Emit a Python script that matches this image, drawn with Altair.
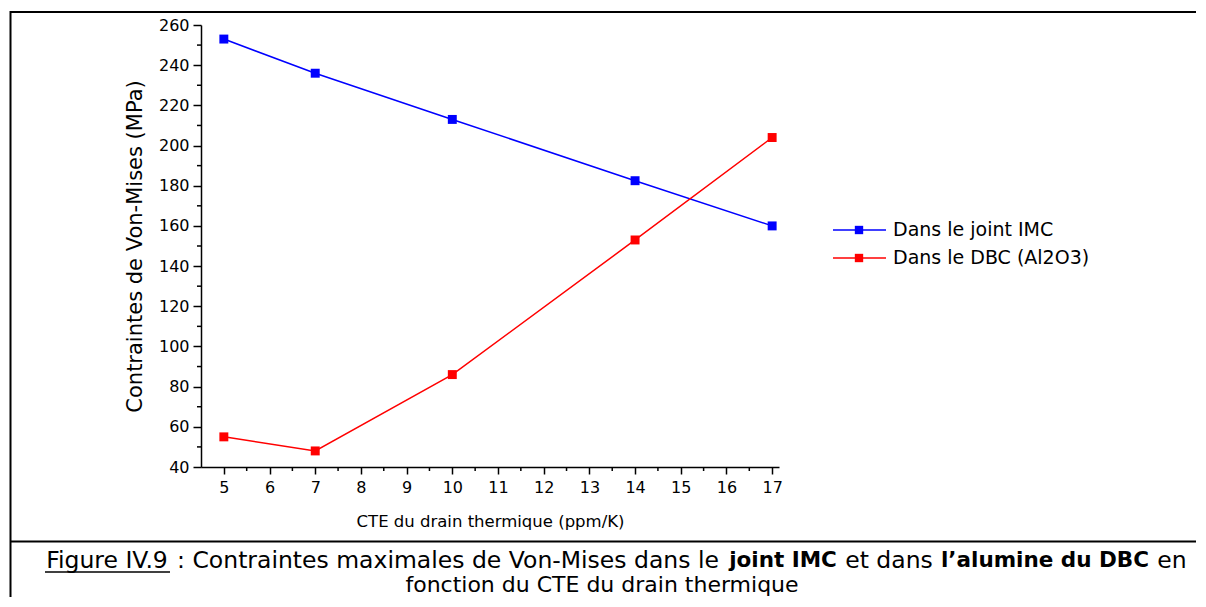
import altair as alt
import pandas as pd

# ---------------- data ----------------
cte = [5, 7, 10, 14, 17]
imc = [253, 236, 213, 182.5, 160]
dbc = [55, 48, 86, 153, 204]
series_names = ["Dans le joint IMC", "Dans le DBC (Al2O3)"]
series_colors = ["#0000FF", "#FF0000"]
x_ticks = list(range(5, 18))
x_minor = [v + 0.5 for v in range(5, 17)]
y_ticks = list(range(40, 261, 20))
y_minor = list(range(50, 251, 20))
x_title = "CTE du drain thermique (ppm/K)"
y_title = "Contraintes de Von-Mises (MPa)"
caption_line1 = [("Figure IV.9", "normal"),
                 (": Contraintes maximales de Von-Mises dans le", "normal"),
                 ("joint IMC", "bold"),
                 ("et dans", "normal"),
                 ("l\u2019alumine du DBC", "bold"),
                 ("en", "normal")]
caption_line2 = "fonction du CTE du drain thermique"

rows = []
for name, vals in zip(series_names, [imc, dbc]):
    for c, v in zip(cte, vals):
        rows.append({"cte": c, "stress": v, "serie": name})
df = pd.DataFrame(rows)

# ---------------- layout ----------------
PX0, PY0 = 201, 25          # page coordinates of the plot origin
W, H = 578, 442
FONT = "DejaVu Sans"

def rx(px):
    return px - PX0

def ry(py):
    return py - PY0

xs = alt.Scale(domain=[4.5, 17.15], nice=False, zero=False)
ys = alt.Scale(domain=[40, 260], nice=False, zero=False)
cs = alt.Scale(domain=series_names, range=series_colors)

common = dict(domainColor="black", domainWidth=1.5, tickColor="black", tickWidth=1.5,
              labelColor="black", titleColor="black", labelFont=FONT, titleFont=FONT,
              titleFontWeight="normal", grid=False, labelFlush=False)

x_enc = alt.X("cte:Q", scale=xs,
              axis=alt.Axis(values=x_ticks, tickSize=7, labelFontSize=16, labelPadding=5,
                            title=x_title, titleFontSize=16.5, titlePadding=18, **common))
y_enc = alt.Y("stress:Q", scale=ys,
              axis=alt.Axis(values=y_ticks, tickSize=8, labelFontSize=16, labelPadding=4,
                            title=y_title, titleFontSize=21, titlePadding=13, **common))

lines = alt.Chart(df).mark_line(strokeWidth=1.5).encode(
    x=x_enc, y=y_enc,
    color=alt.Color("serie:N", scale=cs, legend=None))
points = alt.Chart(df).mark_point(shape="square", filled=True, size=80, opacity=1).encode(
    x=alt.X("cte:Q", scale=xs), y=alt.Y("stress:Q", scale=ys),
    color=alt.Color("serie:N", scale=cs, legend=None))

# minor ticks (same field names so the axes merge with the main ones)
ymin = alt.Chart(pd.DataFrame({"stress": y_minor})).mark_rule(color="black", strokeWidth=1.5).encode(
    y=alt.Y("stress:Q", scale=ys), x=alt.value(-4), x2=alt.value(0))
xmin = alt.Chart(pd.DataFrame({"cte": x_minor})).mark_rule(color="black", strokeWidth=1.5).encode(
    x=alt.X("cte:Q", scale=xs), y=alt.value(H), y2=alt.value(H + 4))

layers = [lines, points, ymin, xmin]

# legend (manual, line + square symbol)
for i, name in enumerate(series_names):
    ldf = pd.DataFrame({"serie": [name]})
    yy = ry(230 + 28 * i)
    layers.append(alt.Chart(ldf).mark_rule(strokeWidth=1.5).encode(
        x=alt.value(rx(833)), x2=alt.value(rx(886)), y=alt.value(yy),
        color=alt.Color("serie:N", scale=cs, legend=None)))
    layers.append(alt.Chart(ldf).mark_point(shape="square", filled=True, size=70, opacity=1).encode(
        x=alt.value(rx(859)), y=alt.value(yy),
        color=alt.Color("serie:N", scale=cs, legend=None)))
    layers.append(alt.Chart(ldf).mark_text(align="left", baseline="middle", font=FONT,
                                           fontSize=19, color="black").encode(
        x=alt.value(rx(893)), y=alt.value(yy), text="serie:N"))

# frame lines of the figure box
one = pd.DataFrame({"k": [0]})
frame = [((10, 12), (1206, 12), 2),
         ((10.5, 11), (10.5, 607), 2),
         ((10, 541.5), (1206, 541.5), 2),
         ((45, 572), (170, 572), 1.5)]
for (x1, y1), (x2, y2), sw in frame:
    layers.append(alt.Chart(one).mark_rule(color="black", strokeWidth=sw).encode(
        x=alt.value(rx(x1)), x2=alt.value(rx(x2)), y=alt.value(ry(y1)), y2=alt.value(ry(y2))))

# caption
cap_centers = [107, 448, 783, 889, 1045, 1172]
for (txt, wt), cx in zip(caption_line1, cap_centers):
    layers.append(alt.Chart(pd.DataFrame({"t": [txt]})).mark_text(
        align="center", baseline="middle", font=FONT, fontSize=23.5 if wt == "normal" else 21.5,
        fontWeight=wt, color="black").encode(
        x=alt.value(rx(cx)), y=alt.value(ry(561)), text="t:N"))
layers.append(alt.Chart(pd.DataFrame({"t": [caption_line2]})).mark_text(
    align="center", baseline="middle", font=FONT, fontSize=22, color="black").encode(
    x=alt.value(rx(602)), y=alt.value(ry(585)), text="t:N"))

chart = alt.layer(*layers).properties(
    width=W, height=H,
    padding={"left": PX0 - 8, "top": PY0 - 8, "right": 417, "bottom": 130},
    autosize=alt.AutoSizeParams(type="none"),
    background="white",
).configure_view(stroke=None)

chart.save("out.html", embed_options={"renderer": "svg", "actions": False})
